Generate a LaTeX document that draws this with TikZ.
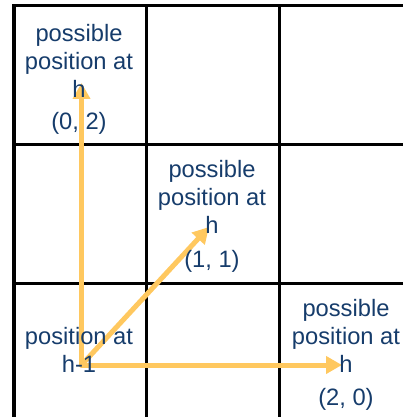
\documentclass[tikz,border=0pt]{standalone}
\usepackage{fontspec}
\setmainfont{Liberation Sans}
\usetikzlibrary{arrows.meta,positioning}
\definecolor{txtblue}{RGB}{22,60,107}
\definecolor{moveyellow}{RGB}{255,200,95}

\begin{document}
\begin{tikzpicture}[x=1pt,y=-1pt,
    cell label/.style={text=txtblue,align=center,inner sep=0pt,anchor=base,
      font=\fontsize{23.7}{28}\selectfont},
    move/.style={moveyellow,line width=5pt,line cap=round,
      -{Triangle[length=16pt,width=17pt]}}]
    \useasboundingbox (0,0) rectangle (403,417);

    % grid of cells, cut at the right and bottom
    \begin{scope}
      \clip (0,0) rectangle (403,417);
      \foreach \x in {146.5,279}
        \draw[line width=3pt] (\x,6) -- (\x,417);
      \foreach \y in {144.5,283}
        \draw[line width=3pt] (14,\y) -- (403,\y);
      \draw[line width=3pt] (12,6) -- (403,6);
      \draw[line width=4.5pt] (14,4.5) -- (14,417);
    \end{scope}

    % moves from h-1
    \coordinate (start) at (81.5,365);
    \coordinate (tip02) at (81.5,83);
    \coordinate (tip11) at (209,227);
    \coordinate (tip20) at (342,365);
    \draw[move] (start) -- (tip02);
    \draw[move] (start) -- (tip11);
    \draw[move] (start) -- (tip20);

    % cell texts (base = last line)
    \node[cell label] (lab02) at (79,98) {possible\\position at\\h};
    \node[cell label] (pos02) at (79,129) {(0, 2)};
    \node[cell label] (lab11) at (212,233) {possible\\position at\\h};
    \node[cell label] (pos11) at (212,267) {(1, 1)};
    \node[cell label] (lab20) at (346,372) {possible\\position at\\h};
    \node[cell label] (pos20) at (346,405) {(2, 0)};
    \node[cell label] (lab00) at (79,372) {position at\\h-1};
\end{tikzpicture}
\end{document}
